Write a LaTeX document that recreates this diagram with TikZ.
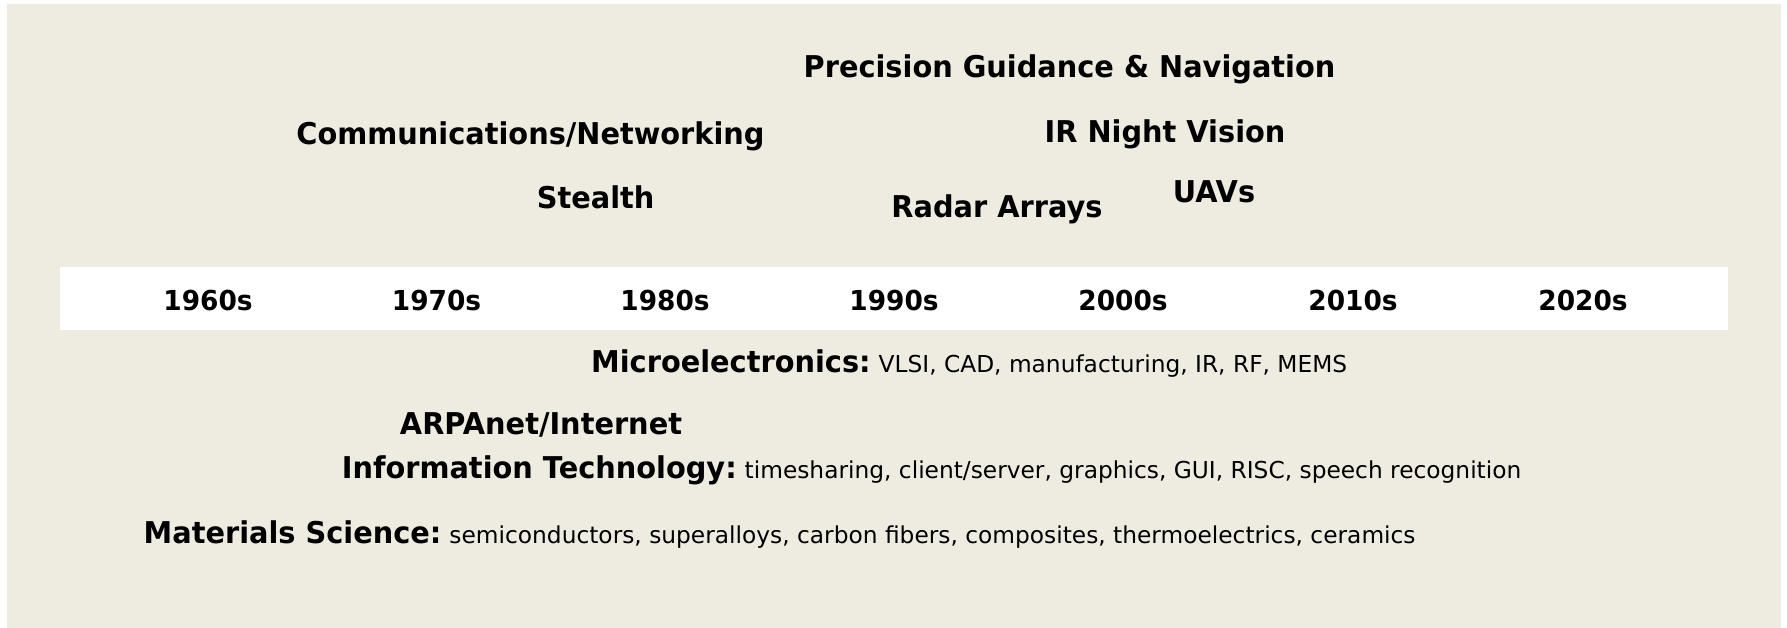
\documentclass[tikz,border=0pt]{standalone}
\usepackage{fontspec}
\setmainfont{DejaVu Sans}[FakeStretch=0.96]
\newfontfamily\detailfont{DejaVu Sans}[FakeStretch=1.0]
\definecolor{panel}{HTML}{EEECE1}
\tikzset{
  era/.style={font=\bfseries\fontsize{27.5}{30}\selectfont, anchor=base, inner sep=0pt},
  field/.style={font=\bfseries\fontsize{30}{33}\selectfont, anchor=base, inner sep=0pt},
  area/.style={font=\bfseries\fontsize{30}{33}\selectfont, anchor=base west, inner sep=0pt},
}
\newcommand{\detail}[1]{\hspace{8pt}{\detailfont\mdseries\fontsize{23.3}{26}\selectfont #1}}
\begin{document}
\begin{tikzpicture}[x=1pt, y=-1pt]
  \useasboundingbox (0,0) rectangle (1787,628);
  \fill[white] (0,0) rectangle (1787,628);
  % tan panel and the white timeline band
  \fill[panel] (7,4) rectangle (1781,628);
  \fill[white] (60,267) rectangle (1728,330);

  % military capabilities above the timeline
  \node[field] (pgn)   at (1069.5,78)  {Precision Guidance \& Navigation};
  \node[field] (comm)  at (530.5,145)  {Communications/Networking};
  \node[field] (irnv)  at (1165,143)   {IR Night Vision};
  \node[field] (steal) at (595.6,209)  {Stealth};
  \node[field] (radar) at (997,218)    {Radar Arrays};
  \node[field] (uav)   at (1214,203)   {UAVs};

  % decades
  \node[era] (d60) at (208,310)    {1960s};
  \node[era] (d70) at (436.5,310)  {1970s};
  \node[era] (d80) at (665,310)    {1980s};
  \node[era] (d90) at (894,310)    {1990s};
  \node[era] (d00) at (1123,310)   {2000s};
  \node[era] (d10) at (1353,310)   {2010s};
  \node[era] (d20) at (1583,310)   {2020s};

  % enabling research areas below the timeline
  \node[area] (micro) at (591,372)   {Microelectronics:\detail{VLSI, CAD, manufacturing, IR, RF, MEMS}};
  \node[field] (arpa) at (541,434)   {ARPAnet/Internet};
  \node[area] (info)  at (341.6,478) {Information Technology:\detail{timesharing, client/server, graphics, GUI, RISC, speech recognition}};
  \node[area] (mat)   at (143.5,543) {Materials Science:\detail{semiconductors, superalloys, carbon fibers, composites, thermoelectrics, ceramics}};
\end{tikzpicture}
\end{document}
